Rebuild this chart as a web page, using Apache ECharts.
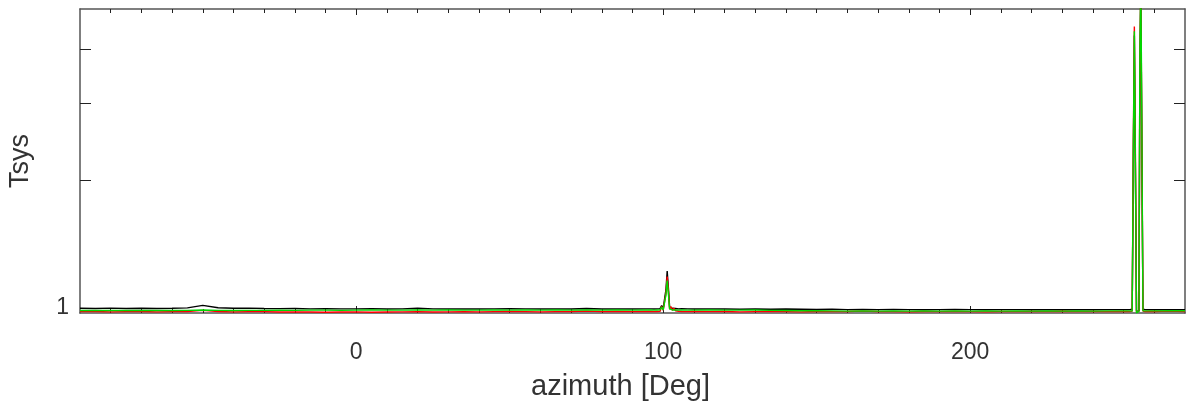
<!DOCTYPE html>
<html>
<head>
<meta charset="utf-8">
<script src="https://cdn.jsdelivr.net/npm/echarts@6/dist/echarts.min.js"></script>
<style>
html,body{margin:0;padding:0;background:#fff;}
#chart{width:1193px;height:405px;}
</style>
</head>
<body>
<div id="chart"></div>
<script>
// ---- data ----
const azimuth = [
  -90,-85,-80,-75,-70,-65,-60,-55,-50,-45,-40,-35,-30,-25,-20,-15,-10,-5,0,5,10,15,20,25,30,35,40,45,50,55,60,65,70,75,80,85,90,95,
  96,97,98,99,99.5,100,100.5,100.9,101.3,101.7,102.1,102.5,103,103.5,104,105,106,108,
  110,115,120,125,130,135,140,145,150,155,160,165,170,175,180,185,190,195,200,205,210,215,220,225,230,235,240,245,250,
  251,252,252.8,253.2,253.5,253.8,254.2,254.6,255.0,255.3,255.6,255.9,256.3,257,258,
  260,265,270
];
const tsysBlack = [
  1.015,1.014,1.016,1.014,1.015,1.014,1.015,1.017,1.031,1.018,1.015,1.016,1.014,1.013,1.014,1.012,1.013,1.012,1.012,1.013,1.011,1.012,1.015,1.012,1.011,1.012,1.011,1.012,1.013,1.012,1.011,1.012,1.011,1.014,1.011,1.012,1.011,1.012,
  1.012,1.011,1.012,1.013,1.030,1.014,1.020,1.120,1.237,1.130,1.020,1.030,1.015,1.022,1.014,1.012,1.013,1.012,
  1.011,1.012,1.011,1.010,1.011,1.010,1.011,1.010,1.009,1.010,1.008,1.009,1.008,1.009,1.008,1.007,1.008,1.009,1.008,1.007,1.008,1.008,1.007,1.008,1.007,1.008,1.007,1.008,1.008,
  1.008,1.008,1.010,2.400,4.300,2.300,1.000,0.990,1.000,3.500,5.500,2.600,1.010,1.008,1.008,
  1.007,1.008,1.008
];
const tsysRed = [
  0.997,0.998,0.996,0.997,0.998,0.996,0.997,0.998,1.004,0.998,0.996,0.997,0.997,0.995,0.996,0.995,0.994,0.995,0.996,0.994,0.995,0.996,0.997,0.995,0.996,0.997,0.996,0.997,0.998,0.997,0.996,0.997,0.998,1.000,0.997,0.998,0.997,0.998,
  0.998,0.997,0.998,0.999,1.025,1.005,1.010,1.100,1.200,1.110,1.010,1.025,1.004,1.015,1.002,0.999,0.998,0.997,
  0.998,0.997,0.998,0.996,0.997,0.998,0.997,0.996,0.998,0.997,0.998,1.000,0.998,0.997,0.996,0.998,0.997,0.998,0.997,0.996,0.998,0.997,0.998,0.997,0.999,0.997,0.998,0.997,0.998,
  0.998,0.997,1.000,2.600,4.510,2.500,0.995,0.990,1.000,3.800,5.600,2.800,1.000,0.998,0.999,
  0.998,1.000,0.998
];
const tsysGreen = [
  1.003,1.004,1.003,1.003,1.004,1.003,1.003,1.004,1.006,1.004,1.003,1.004,1.004,1.005,1.004,1.005,1.005,1.004,1.005,1.006,1.005,1.005,1.006,1.005,1.006,1.005,1.005,1.006,1.005,1.006,1.005,1.006,1.005,1.006,1.005,1.006,1.005,1.006,
  1.006,1.005,1.006,1.007,1.022,1.006,1.012,1.090,1.175,1.095,1.012,1.022,1.006,1.014,1.006,1.005,1.006,1.005,
  1.005,1.006,1.005,1.005,1.006,1.004,1.003,1.002,1.002,1.001,1.000,1.001,1.000,1.001,1.000,1.001,1.000,1.001,1.000,1.001,1.000,1.001,1.000,1.001,1.000,1.001,1.000,1.001,1.001,
  1.001,1.001,1.000,2.500,4.400,2.400,0.990,0.985,1.000,3.900,5.800,3.000,1.002,1.001,1.001,
  1.001,1.002,1.002
];
const xMin = -90, xMax = 270;
const yMin = 0.99, yMax = 4.95;
const xMajorTicks = [0, 100, 200];
const xMinorTicks = [-80,-70,-60,-50,-40,-30,-20,-10,0,10,20,30,40,50,60,70,80,90,100,110,120,130,140,150,160,170,180,190,200,210,220,230,240,250,260];
const yTickValues = [1, 2, 3, 4];
const yLabelValues = [1];

// ---- chart ----
const zip = (xs, ys) => xs.map((x, i) => [x, ys[i]]);
const frameColor = '#555';
const fontFam = 'Liberation Sans, Arial, sans-serif';
const logMin = Math.log10(yMin), logMax = Math.log10(yMax);
const yTickLog = yTickValues.map(v => Math.log10(v));
const yLabelLog = yLabelValues.map(v => Math.log10(v));

function xAxisDef(pos, ticks, len, withLabels, showLine) {
  return {
    type: 'value', min: xMin, max: xMax, position: pos,
    axisLine: { show: showLine, onZero: false, lineStyle: { color: frameColor, width: 1.5 } },
    axisTick: { show: true, inside: true, length: len, customValues: ticks, lineStyle: { color: '#222', width: 1 } },
    axisLabel: withLabels ? { show: true, customValues: xMajorTicks, fontSize: 23, color: '#333', margin: 28, fontFamily: fontFam } : { show: false },
    splitLine: { show: false }
  };
}

const chart = echarts.init(document.getElementById('chart'), null, { renderer: 'canvas' });
chart.setOption({
  animation: false,
  backgroundColor: '#fff',
  grid: { left: 80, right: 8, top: 9, bottom: 92, containLabel: false, outerBoundsMode: 'none' },
  xAxis: [
    Object.assign(xAxisDef('bottom', xMajorTicks, 7, true, true), {
      name: 'azimuth [Deg]', nameLocation: 'middle', nameGap: 59,
      nameTextStyle: { fontSize: 29, color: '#333', fontFamily: fontFam, padding: [0, 24, 0, 0] }
    }),
    xAxisDef('bottom', xMinorTicks, 4, false, false),
    xAxisDef('top', xMajorTicks, 6, false, true),
    xAxisDef('top', xMinorTicks, 4, false, false)
  ],
  yAxis: [
    {
      type: 'log', min: yMin, max: yMax, position: 'left',
      axisLine: { show: false }, axisTick: { show: false }, axisLabel: { show: false }, splitLine: { show: false }
    },
    {
      type: 'value', min: logMin, max: logMax, position: 'left',
      name: 'Tsys', nameLocation: 'middle', nameGap: 46,
      nameTextStyle: { fontSize: 27, color: '#333', fontFamily: fontFam },
      axisLine: { show: true, onZero: false, lineStyle: { color: frameColor, width: 1.5 } },
      axisTick: { show: true, inside: true, length: 11, customValues: yTickLog, lineStyle: { color: '#222', width: 1 } },
      axisLabel: {
        show: true, customValues: yLabelLog, fontSize: 23, color: '#333', margin: 11,
        verticalAlign: 'bottom', lineHeight: 7,
        fontFamily: fontFam,
        formatter: v => (Math.abs(v) < 1e-9 ? String(yLabelValues[0]) : '')
      },
      splitLine: { show: false }
    },
    {
      type: 'value', min: logMin, max: logMax, position: 'right',
      axisLine: { show: true, onZero: false, lineStyle: { color: frameColor, width: 1.5 } },
      axisTick: { show: true, inside: true, length: 11, customValues: yTickLog, lineStyle: { color: '#222', width: 1 } },
      axisLabel: { show: false }, splitLine: { show: false }
    }
  ],
  series: [
    { name: 'black', type: 'line', xAxisIndex: 0, yAxisIndex: 0, data: zip(azimuth, tsysBlack), showSymbol: false, symbol: 'none', clip: true, lineStyle: { color: '#000', width: 1.4 }, itemStyle: { color: '#000' } },
    { name: 'red', type: 'line', xAxisIndex: 0, yAxisIndex: 0, data: zip(azimuth, tsysRed), showSymbol: false, symbol: 'none', clip: true, lineStyle: { color: '#ff0000', width: 1.4 }, itemStyle: { color: '#ff0000' } },
    { name: 'green', type: 'line', xAxisIndex: 0, yAxisIndex: 0, data: zip(azimuth, tsysGreen), showSymbol: false, symbol: 'none', clip: true, lineStyle: { color: '#00d800', width: 1.4 }, itemStyle: { color: '#00d800' } }
  ]
});
</script>
</body>
</html>
